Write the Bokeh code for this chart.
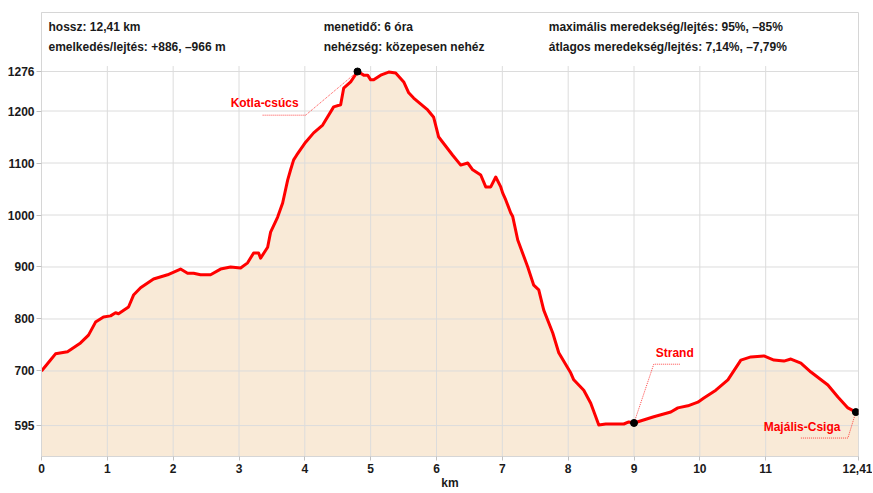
from bokeh.plotting import figure
from bokeh.models import Range1d, FixedTicker, Label
from bokeh.embed import file_html
from bokeh.resources import INLINE

# ---------------- data ----------------
km = [0.000, 0.137, 0.213, 0.395, 0.593, 0.714, 0.821, 0.942, 1.049, 1.125,
      1.170, 1.322, 1.398, 1.505, 1.702, 1.915, 2.112, 2.219, 2.310, 2.416,
      2.568, 2.720, 2.872, 3.024, 3.131, 3.222, 3.298, 3.328, 3.435, 3.480,
      3.587, 3.663, 3.739, 3.784, 3.830, 3.875, 4.012, 4.134, 4.271, 4.438,
      4.544, 4.590, 4.696, 4.802, 4.894, 4.954, 5.000, 5.046, 5.152, 5.274,
      5.380, 5.502, 5.578, 5.653, 5.866, 5.957, 6.033, 6.246, 6.368, 6.474,
      6.550, 6.672, 6.748, 6.824, 6.900, 6.976, 7.006, 7.052, 7.128, 7.158,
      7.234, 7.386, 7.477, 7.553, 7.629, 7.766, 7.857, 8.040, 8.085, 8.161,
      8.237, 8.343, 8.419, 8.465, 8.571, 8.845, 8.921, 9.000, 9.301, 9.559,
      9.666, 9.818, 9.970, 10.061, 10.243, 10.426, 10.623, 10.775, 10.973, 11.125,
      11.277, 11.383, 11.535, 11.687, 11.945, 12.097, 12.249, 12.370, 12.410]
elev = [700, 721, 733, 737, 754, 769, 794, 804, 806, 812,
        810, 823, 846, 860, 877, 885, 896, 888, 888, 885,
        885, 896, 900, 898, 908, 927, 927, 917, 938, 967,
        996, 1023, 1067, 1087, 1106, 1115, 1140, 1158, 1173, 1208,
        1212, 1244, 1256, 1276, 1269, 1269, 1260, 1260, 1269, 1275,
        1273, 1256, 1235, 1225, 1202, 1188, 1150, 1115, 1096, 1100,
        1087, 1077, 1054, 1054, 1073, 1054, 1042, 1029, 1004, 997,
        952, 900, 865, 856, 817, 773, 735, 696, 683, 673,
        663, 638, 612, 596, 598, 598, 602, 600, 612, 621,
        629, 633, 640, 648, 663, 683, 721, 727, 729, 721,
        719, 723, 715, 698, 673, 650, 629, 621, 620]

x_ticks = [0, 1, 2, 3, 4, 5, 6, 7, 8, 9, 10, 11, 12.41]
x_tick_labels = ["0", "1", "2", "3", "4", "5", "6", "7", "8", "9", "10", "11", "12,41"]
y_ticks = [595, 700, 800, 900, 1000, 1100, 1200, 1276]
y_tick_labels = ["595", "700", "800", "900", "1000", "1100", "1200", "1276"]

poi_names = ["Kotla-csúcs", "Strand", "Majális-Csiga"]
poi_km = [4.80, 9.00, 12.37]
poi_elev = [1276, 600, 621]

header_left = ["hossz: 12,41 km", "emelkedés/lejtés: +886, –966 m"]
header_mid = ["menetidő: 6 óra", "nehézség: közepesen nehéz"]
header_right = ["maximális meredekség/lejtés: 95%, –85%",
                "átlagos meredekség/lejtés: 7,14%, –7,79%"]

x_unit = "km"
y_unit = "m"

# ---------------- layout constants ----------------
X0, X1 = 0, 12.41
Y0, Y1 = 535.5, 1389.5
GRID_TOP = 1286.5
FONT = "Liberation Sans"
RED = "#ff0000"
GRID = "#dcdcdc"

p = figure(width=872, height=492, x_range=Range1d(X0, X1), y_range=Range1d(Y0, Y1),
           output_backend="svg", toolbar_location=None,
           min_border_left=41, min_border_right=14, min_border_top=12, min_border_bottom=36)
p.background_fill_color = "white"
p.border_fill_color = "white"
p.outline_line_color = "#d6d6d6"
p.outline_line_width = 1
p.xgrid.visible = False
p.ygrid.visible = False

for ax in (p.xaxis[0], p.yaxis[0]):
    ax.axis_line_color = "#d6d6d6"
    ax.major_tick_line_color = "#c0c0c0"
    ax.major_tick_in = 0
    ax.minor_tick_line_color = None
    ax.major_label_text_font = FONT
    ax.major_label_text_font_style = "bold"
    ax.major_label_text_font_size = "12px"
    ax.major_label_text_color = "#1a1a1a"

p.xaxis.ticker = FixedTicker(ticks=x_ticks)
p.xaxis.major_label_overrides = dict(zip(x_ticks, x_tick_labels))
p.xaxis.major_tick_out = 4
p.xaxis.major_label_standoff = 3
p.xaxis.axis_label = x_unit
p.xaxis.axis_label_standoff = 0
p.xaxis.axis_label_text_font = FONT
p.xaxis.axis_label_text_font_style = "bold"
p.xaxis.axis_label_text_font_size = "12px"
p.xaxis.axis_label_text_color = "#1a1a1a"
p.yaxis.ticker = FixedTicker(ticks=y_ticks)
p.yaxis.major_label_overrides = dict(zip(y_ticks, y_tick_labels))
p.yaxis.major_tick_out = 5
p.yaxis.major_label_standoff = 2

# filled area
p.varea(x=km, y1=[Y0] * len(km), y2=elev, fill_color="#f9ead7")

# grid lines (over fill, under profile)
p.segment(x0=x_ticks, y0=[Y0] * len(x_ticks), x1=x_ticks, y1=[GRID_TOP] * len(x_ticks),
          line_color=GRID, line_width=1)
p.segment(x0=[X0] * len(y_ticks), y0=y_ticks, x1=[X1] * len(y_ticks), y1=y_ticks,
          line_color=GRID, line_width=1)

# profile line
p.line(km, elev, line_color=RED, line_width=3, line_join="round")

# leader lines & labels for points of interest
# (label x, label y, align, elbow x, elbow y, horizontal end x)
poi_layout = [
    (3.906, 1215, "right", 4.012, 1192, 3.359),
    (9.33, 735, "left", 9.30, 713, 9.696),
    (10.97, 592, "left", 12.249, 571, 11.535),
]
for name, mx, my, (lx, ly, al, ex, ey, hx) in zip(poi_names, poi_km, poi_elev, poi_layout):
    p.line([hx, ex, mx], [ey, ey, my], line_color=RED, line_width=0.8,
           line_dash="1 1", line_alpha=0.9)
    p.add_layout(Label(x=lx, y=ly, text=name, text_align=al, text_baseline="middle",
                       text_font=FONT, text_font_style="bold", text_font_size="12px",
                       text_color=RED))

p.scatter(poi_km, poi_elev, size=7, fill_color="black", line_color="black")

# header texts
col_x = [0.106, 4.286, 7.705]
row_y = [1361, 1323]
for cx, col in zip(col_x, [header_left, header_mid, header_right]):
    for ry, txt in zip(row_y, col):
        p.add_layout(Label(x=cx, y=ry, text=txt, text_align="left", text_baseline="middle",
                           text_font=FONT, text_font_style="bold", text_font_size="12px",
                           text_color="#1a1a1a"))

# y unit label
p.add_layout(Label(x=-0.365, y=1329, text=y_unit, text_align="center", text_baseline="middle",
                   text_font=FONT, text_font_style="bold", text_font_size="12px",
                   text_color="#1a1a1a"))

open("out.html", "w").write(file_html(p, INLINE))
